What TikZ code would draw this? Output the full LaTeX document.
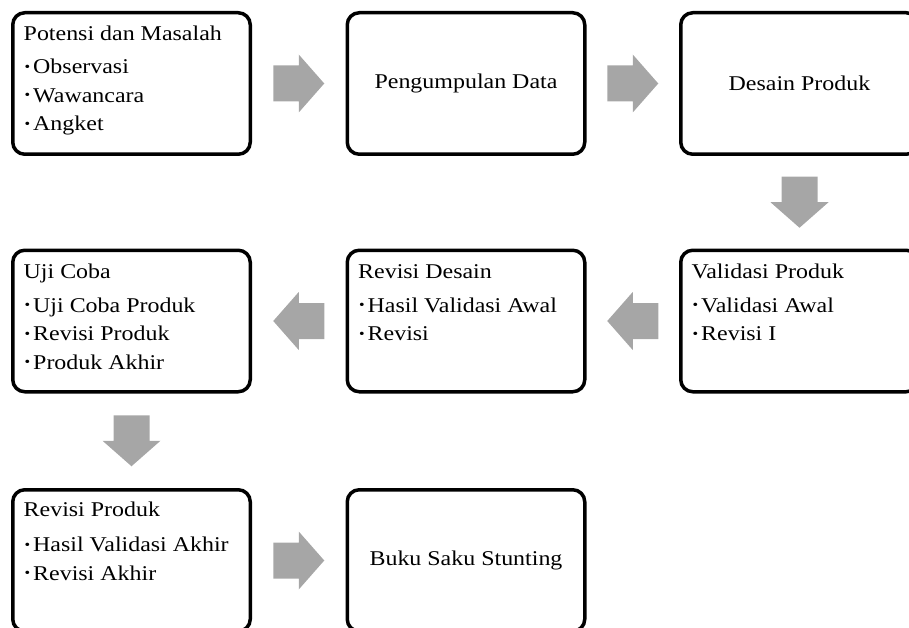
\documentclass[tikz,border=0pt]{standalone}
\usepackage{fontspec}
\setmainfont{Liberation Serif}[FakeStretch=1.14]
\usetikzlibrary{calc}
\definecolor{arrowgray}{RGB}{166,166,166}
\newcommand\bul{\makebox[8.5pt][l]{\raisebox{2.5pt}{\fontsize{14}{14}\selectfont •}}}
\newcommand\blockarrow[2]{\fill[arrowgray, shift={#1}, rotate=#2] (-25.5,-18) -- (0,-18) -- (0,-29) -- (25.5,0) -- (0,29) -- (0,18) -- (-25.5,18) -- cycle;}
\tikzset{
  box/.style={draw=black, line width=3.5pt, rounded corners=12pt, rectangle, inner sep=0pt,
    minimum width=237.5pt, minimum height=141.5pt, fill=white},
  txt/.style={anchor=base west, inner sep=0pt, font=\fontsize{21}{24}\selectfont, text=black},
  ctxt/.style={inner sep=0pt, font=\fontsize{21}{24}\selectfont, text=black}
}
\begin{document}
\begin{tikzpicture}[x=1pt,y=-1pt]
\useasboundingbox (0,0) rectangle (909,628);
\clip (0,0) rectangle (909,628);
% boxes
\node[box] (b1) at (131.5,83.5) {};
\node[box] (b2) at (466,83.5) {};
\node[box] (b3) at (799.5,83.5) {};
\node[box] (b4) at (131.5,321) {};
\node[box] (b5) at (466,321) {};
\node[box] (b6) at (799.5,321) {};
\node[box] (b7) at (131.5,560.5) {};
\node[box] (b8) at (466,560.5) {};
% texts
\node[txt] (t1a) at ($(b1.north west)+(12.5,29.5)$) {Potensi dan Masalah};
\node[txt] (t1b) at ($(b1.north west)+(13.5,63)$) {\bul Observasi};
\node[txt] (t1c) at ($(b1.north west)+(13.5,91.5)$) {\bul Wawancara};
\node[txt] (t1d) at ($(b1.north west)+(13.5,120)$) {\bul Angket};
\node[ctxt] (t2) at (b2.center) {Pengumpulan Data};
\node[ctxt] (t3) at (b3.center) {Desain Produk};
\node[txt] (t4a) at ($(b4.north west)+(12.5,30)$) {Uji Coba};
\node[txt] (t4b) at ($(b4.north west)+(13.5,63.5)$) {\bul Uji Coba Produk};
\node[txt] (t4c) at ($(b4.north west)+(13.5,92)$) {\bul Revisi Produk};
\node[txt] (t4d) at ($(b4.north west)+(13.5,120.5)$) {\bul Produk Akhir};
\node[txt] (t5a) at ($(b5.north west)+(12.5,29.5)$) {Revisi Desain};
\node[txt] (t5b) at ($(b5.north west)+(13.5,63.5)$) {\bul Hasil Validasi Awal};
\node[txt] (t5c) at ($(b5.north west)+(13.5,92)$) {\bul Revisi};
\node[txt] (t6a) at ($(b6.north west)+(12.5,29.5)$) {Validasi Produk};
\node[txt] (t6b) at ($(b6.north west)+(13.5,63.5)$) {\bul Validasi Awal};
\node[txt] (t6c) at ($(b6.north west)+(13.5,92)$) {\bul Revisi I};
\node[txt] (t7a) at ($(b7.north west)+(12.5,28.5)$) {Revisi Produk};
\node[txt] (t7b) at ($(b7.north west)+(13.5,63.5)$) {\bul Hasil Validasi Akhir};
\node[txt] (t7c) at ($(b7.north west)+(13.5,92)$) {\bul Revisi Akhir};
\node[ctxt] (t8) at (b8.center) {Buku Saku Stunting};
% block arrows
\blockarrow{($(b1.east)!0.5!(b2.west)$)}{0}
\blockarrow{($(b2.east)!0.5!(b3.west)$)}{0}
\blockarrow{($(b3.south)!0.5!(b6.north)$)}{-90}
\blockarrow{($(b6.west)!0.5!(b5.east)$)}{180}
\blockarrow{($(b5.west)!0.5!(b4.east)$)}{180}
\blockarrow{($(b4.south)!0.5!(b7.north)$)}{-90}
\blockarrow{($(b7.east)!0.5!(b8.west)$)}{0}
\end{tikzpicture}
\end{document}
